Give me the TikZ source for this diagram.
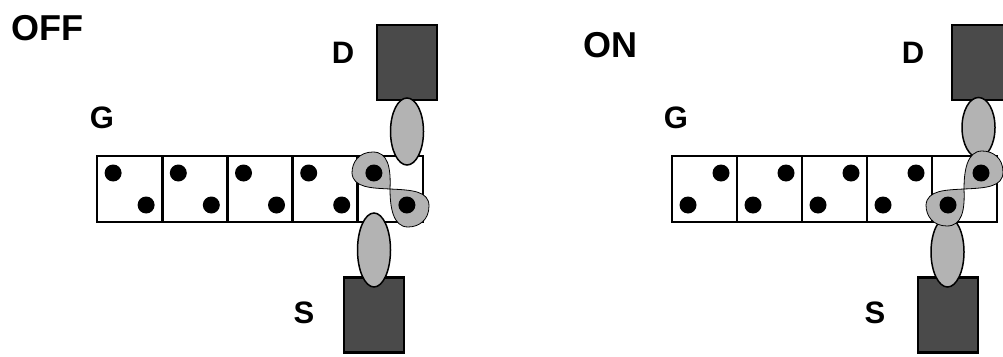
\documentclass[tikz,border=0pt]{standalone}
\usepackage{fontspec}
\setmainfont{Liberation Sans}
\usetikzlibrary{shapes.geometric}
\definecolor{contact}{HTML}{4A4A4A}
\definecolor{cloud}{HTML}{B3B3B3}
\tikzset{
  title/.style={font=\fontsize{36}{36}\selectfont\bfseries, anchor=base, inner sep=0pt},
  tag/.style={font=\fontsize{31}{31}\selectfont\bfseries, anchor=base, inner sep=0pt},
  cell/.style={draw, line width=2.5pt, minimum width=65pt, minimum height=66pt, inner sep=0pt, fill=white},
  electrode/.style={draw, line width=2.8pt, fill=contact, minimum width=60pt, minimum height=75pt, inner sep=0pt},
  orbital/.style={draw, ellipse, line width=1.5pt, fill=cloud, minimum width=33pt, inner sep=0pt},
  electron/.style={circle, fill=black, minimum size=17pt, inner sep=0pt},
  bond/.style={draw=black, line width=0.8pt, fill=cloud},
}
% two-lobed cloud shared by the pair of electrons in the end cell
\newcommand\sharedpair{%
  \path[bond] (373,152) .. controls (359,152) and (352,162) .. (352,173)
    .. controls (353,188) and (372,188) .. (390,189)
    .. controls (412,190) and (429,191) .. (429,206)
    .. controls (429,220) and (419,227) .. (408,227)
    .. controls (393,227) and (390,207) .. (390,189)
    .. controls (391,168) and (388,152) .. (373,152) -- cycle;
}
\begin{document}
\begin{tikzpicture}[x=1pt, y=-1pt]
\useasboundingbox (0,0) rectangle (1003,356);

% ---------------- OFF state ----------------
\node[title] (offlabel) at (47,40) {OFF};
\node[electrode] (offD) at (407,62.5) {};
\node[electrode] (offS) at (374,315) {};
\node[tag] (offDl) at (343,63) {D};
\node[tag] (offGl) at (102,128) {G};
\node[tag] (offSl) at (304,323) {S};
\foreach \i in {1,...,5} {
  \node[cell] (offc\i) at ({97+65.2*(\i-0.5)},189) {};
}
\node[orbital, minimum height=67pt] (offDo) at (407,131.5) {};
\node[orbital, minimum height=74pt] (offSo) at (374,250) {};
\sharedpair
\foreach \i in {1,...,5} {
  \node[electron] (offa\i) at ([xshift=-16.5pt,yshift=16pt]offc\i.center) {};
  \node[electron] (offb\i) at ([xshift=16.5pt,yshift=-16pt]offc\i.center) {};
}

% ---------------- ON state ----------------
\node[title] (onlabel) at (610,57) {ON};
\node[electrode] (onD) at (982,62.5) {};
\node[electrode] (onS) at (948,315) {};
\node[tag] (onDl) at (913,63) {D};
\node[tag] (onGl) at (676,128) {G};
\node[tag] (onSl) at (875,323) {S};
\foreach \i in {1,...,5} {
  \node[cell] (onc\i) at ({672+65*(\i-0.5)},189) {};
}
\node[orbital, minimum height=60pt] (onDo) at (978.5,127.5) {};
\node[orbital, minimum height=70pt] (onSo) at (947.5,252) {};
% same cloud, mirrored top to bottom
\begin{scope}[shift={(574,378)}, yscale=-1]
\sharedpair
\end{scope}
\foreach \i in {1,...,5} {
  \node[electron] (ona\i) at ([xshift=16.5pt,yshift=16pt]onc\i.center) {};
  \node[electron] (onb\i) at ([xshift=-16.5pt,yshift=-16pt]onc\i.center) {};
}
\end{tikzpicture}
\end{document}
